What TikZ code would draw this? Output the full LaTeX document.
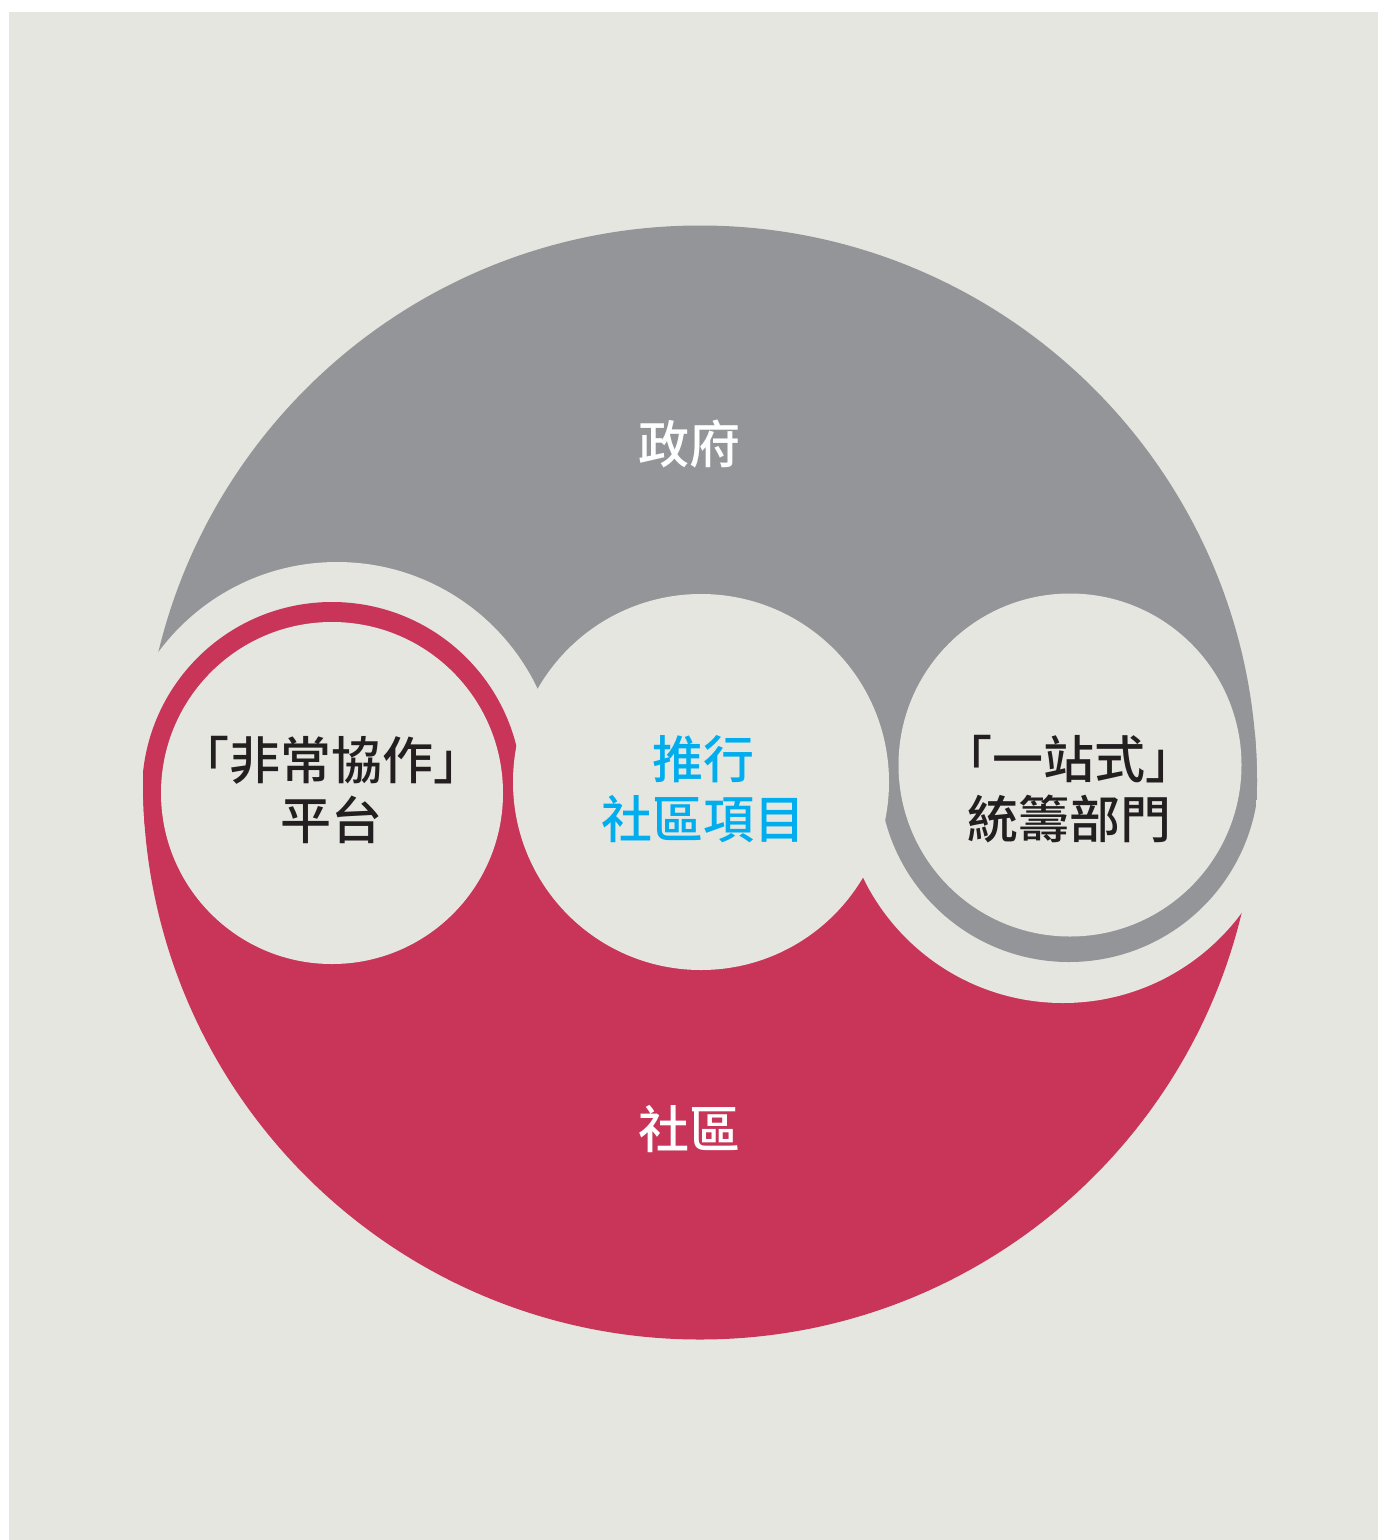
\documentclass[tikz,border=0pt]{standalone}
\usepackage{fontspec}
\newfontfamily\cjk{Noto Sans CJK TC Medium}
\definecolor{bgc}{RGB}{230,230,225}
\definecolor{govgray}{RGB}{147,149,152}
\definecolor{comred}{RGB}{200,53,89}
\definecolor{projblue}{RGB}{0,174,239}
\definecolor{txtdark}{RGB}{35,31,32}
\begin{document}
\begin{tikzpicture}[x=1pt,y=-1pt,
  lbl/.style={font=\cjk\fontsize{51}{60}\selectfont, align=center, inner sep=0pt},
  bigtitle/.style={lbl, text=white},
  darktext/.style={lbl, text=txtdark},
  bluetext/.style={lbl, text=projblue}]
\useasboundingbox (0,0) rectangle (1378,1540);
\fill[white] (0,0) rectangle (1378,1540);
\fill[bgc] (9,12) rectangle (1378,1540);
% outer circle: government (top half) and community (bottom half)
\begin{scope}
  \clip (700,782.5) circle[radius=557pt];
  \fill[govgray] (0,0) rectangle (1378,782);
  \fill[comred] (0,782) rectangle (1378,1540);
\end{scope}
% gaps cut into each half
\begin{scope}
  \clip (0,0) rectangle (1378,782);
  \fill[bgc] (337,784) circle[radius=222pt];
\end{scope}
\begin{scope}
  \clip (0,782) rectangle (1378,1540);
  \fill[bgc] (1063,781) circle[radius=222pt];
\end{scope}
% rings
\begin{scope}
  \clip (700,782.5) circle[radius=557pt];
  \fill[comred] (332,792) circle[radius=190pt];
  \fill[govgray] (1069,772) circle[radius=190pt];
\end{scope}
% inner circles
\fill[bgc] (332,793) circle[radius=171pt];
\fill[bgc] (701,782) circle[radius=188pt];
\fill[bgc] (1070,765) circle[radius=171.5pt];
% labels
\node[bigtitle] (gov) at (689,444) {政府};
\node[bigtitle] (com) at (689,1129) {社區};
\node[bluetext] (proj) at (703,789) {推行\\社區項目};
\node[darktext] (collab) at (331,790) {「非常協作」\\平台};
\node[darktext] (onestop) at (1069,789) {「一站式」\\統籌部門};
\end{tikzpicture}
\end{document}
